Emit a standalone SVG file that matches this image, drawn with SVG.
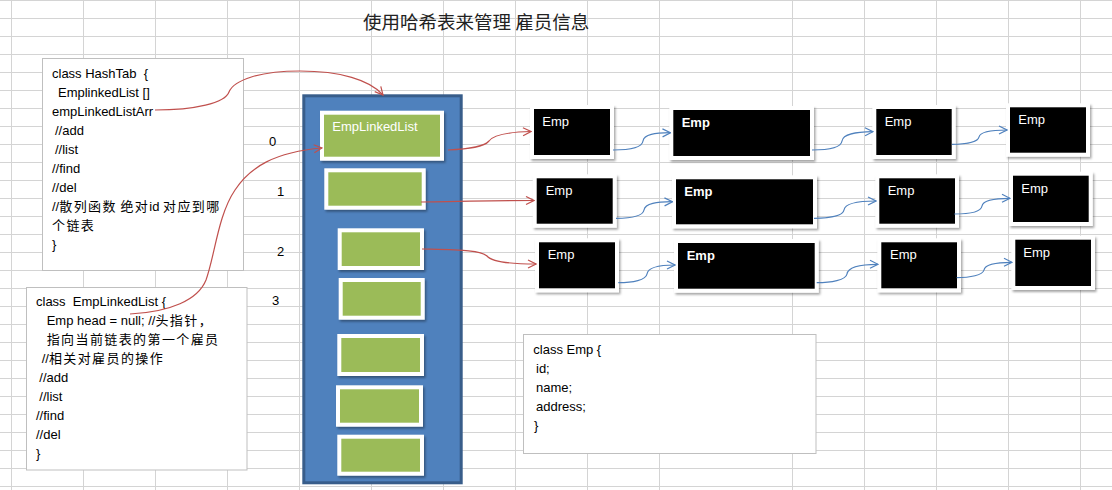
<svg xmlns="http://www.w3.org/2000/svg" width="1112" height="490" viewBox="0 0 1112 490">
<style>
.grid line{stroke:#d4d4d4;stroke-width:1}
.t{font-family:"Liberation Sans","Noto Sans CJK SC",sans-serif;font-size:13px;fill:#000}
.c{font-family:"Noto Sans CJK SC",sans-serif;font-size:13px;letter-spacing:1.4px}
.note{fill:#fff;stroke:#bfbfbf;stroke-width:1}
.g{fill:#9bbb59;stroke:#fff;stroke-width:4;filter:url(#sh)}
.e{fill:#000;stroke:#fff;stroke-width:4;filter:url(#sh)}
.w{font-family:"Liberation Sans",sans-serif;font-size:13px;fill:#fff}
.wb{font-weight:bold}
.red{fill:none;stroke:#c0504d;stroke-width:1.2;marker-end:url(#ar)}
.blu{fill:none;stroke:#4f81bd;stroke-width:1.2;marker-end:url(#ab)}
</style>
<defs>
<filter id="sh" x="-10%" y="-10%" width="130%" height="140%"><feDropShadow dx="1.5" dy="2" stdDeviation="1.2" flood-color="#000" flood-opacity="0.35"/></filter>
<marker id="ar" markerWidth="10" markerHeight="10" refX="9" refY="5" orient="auto" markerUnits="userSpaceOnUse"><path d="M1,1 L9,5 L1,9" fill="none" stroke="#c0504d" stroke-width="1.2"/></marker>
<marker id="ab" markerWidth="10" markerHeight="10" refX="9" refY="5" orient="auto" markerUnits="userSpaceOnUse"><path d="M1,1 L9,5 L1,9" fill="none" stroke="#4f81bd" stroke-width="1.2"/></marker>
</defs>
<rect width="1112" height="490" fill="#fff"/>
<g class="grid">
<line x1="0" y1="0.5" x2="1112" y2="0.5"/><line x1="0" y1="18.5" x2="1112" y2="18.5"/><line x1="0" y1="36.5" x2="1112" y2="36.5"/><line x1="0" y1="54.5" x2="1112" y2="54.5"/><line x1="0" y1="72.5" x2="1112" y2="72.5"/><line x1="0" y1="90.5" x2="1112" y2="90.5"/><line x1="0" y1="108.5" x2="1112" y2="108.5"/><line x1="0" y1="126.5" x2="1112" y2="126.5"/><line x1="0" y1="144.5" x2="1112" y2="144.5"/><line x1="0" y1="162.5" x2="1112" y2="162.5"/><line x1="0" y1="180.5" x2="1112" y2="180.5"/><line x1="0" y1="198.5" x2="1112" y2="198.5"/><line x1="0" y1="216.5" x2="1112" y2="216.5"/><line x1="0" y1="234.5" x2="1112" y2="234.5"/><line x1="0" y1="252.5" x2="1112" y2="252.5"/><line x1="0" y1="270.5" x2="1112" y2="270.5"/><line x1="0" y1="288.5" x2="1112" y2="288.5"/><line x1="0" y1="306.5" x2="1112" y2="306.5"/><line x1="0" y1="324.5" x2="1112" y2="324.5"/><line x1="0" y1="342.5" x2="1112" y2="342.5"/><line x1="0" y1="360.5" x2="1112" y2="360.5"/><line x1="0" y1="378.5" x2="1112" y2="378.5"/><line x1="0" y1="396.5" x2="1112" y2="396.5"/><line x1="0" y1="414.5" x2="1112" y2="414.5"/><line x1="0" y1="432.5" x2="1112" y2="432.5"/><line x1="0" y1="450.5" x2="1112" y2="450.5"/><line x1="0" y1="468.5" x2="1112" y2="468.5"/><line x1="0" y1="486.5" x2="1112" y2="486.5"/>
<line x1="11.5" y1="0" x2="11.5" y2="490"/><line x1="83.5" y1="0" x2="83.5" y2="490"/><line x1="155.5" y1="0" x2="155.5" y2="490"/><line x1="227.5" y1="0" x2="227.5" y2="490"/><line x1="299.5" y1="0" x2="299.5" y2="490"/><line x1="371.5" y1="0" x2="371.5" y2="490"/><line x1="443.5" y1="0" x2="443.5" y2="490"/><line x1="515.5" y1="0" x2="515.5" y2="490"/><line x1="587.5" y1="0" x2="587.5" y2="490"/><line x1="659.5" y1="0" x2="659.5" y2="490"/><line x1="792.5" y1="0" x2="792.5" y2="490"/><line x1="864.5" y1="0" x2="864.5" y2="490"/><line x1="936.5" y1="0" x2="936.5" y2="490"/><line x1="1008.5" y1="0" x2="1008.5" y2="490"/><line x1="1080.5" y1="0" x2="1080.5" y2="490"/>
</g>
<text id="title" x="363" y="29" style="font-family:'Noto Sans CJK SC',sans-serif;font-size:18.5px;fill:#222" xml:space="preserve">使用哈希表来管理 雇员信息</text>
<g id="hashtab">
<rect class="note" x="42.5" y="58.5" width="201" height="212"/>
<text class="t" xml:space="preserve"><tspan x="52" y="77.5">class HashTab  {</tspan><tspan x="58" y="96.5">EmplinkedList []</tspan><tspan x="52" y="115.5">empLinkedListArr</tspan><tspan x="55" y="134.5">//add</tspan><tspan x="55" y="153.5">//list</tspan><tspan x="52" y="172.5">//find</tspan><tspan x="52" y="191.5">//del</tspan><tspan x="52" y="210.5">//<tspan class="c">散列函数</tspan> <tspan class="c">绝对</tspan>id <tspan class="c">对应到哪</tspan></tspan><tspan x="52" y="229.5" class="c">个链表</tspan><tspan x="52" y="248.5">}</tspan></text>
</g>
<g id="emplinkedlist-class">
<rect class="note" x="26.5" y="287.5" width="220.5" height="182.5"/>
<text class="t" xml:space="preserve"><tspan x="36" y="306">class  EmpLinkedList {</tspan><tspan x="46.7" y="325">Emp head = null; //<tspan class="c">头指针，</tspan></tspan><tspan x="46.7" y="344" class="c">指向当前链表的第一个雇员</tspan><tspan x="41.7" y="362.5">//<tspan class="c">相关对雇员的操作</tspan></tspan><tspan x="39.3" y="382">//add</tspan><tspan x="39.3" y="401">//list</tspan><tspan x="36" y="420">//find</tspan><tspan x="36" y="439">//del</tspan><tspan x="36" y="458">}</tspan></text>
</g>
<g id="emp-class">
<rect class="note" x="523.5" y="334.5" width="292.5" height="119"/>
<text class="t" xml:space="preserve"><tspan x="533.3" y="354">class Emp {</tspan><tspan x="536" y="373">id;</tspan><tspan x="536" y="392">name;</tspan><tspan x="536" y="411">address;</tspan><tspan x="534" y="430">}</tspan></text>
</g>
<g id="indices" class="t">
<text x="269" y="146">0</text><text x="277" y="196">1</text><text x="277" y="256">2</text><text x="272" y="305">3</text>
</g>
<g id="array">
<rect x="303.8" y="95.8" width="157.4" height="387" fill="#4f81bd" stroke="#385d8a" stroke-width="3"/>
</g>
<g id="bucket0"><rect class="g" x="322" y="112.7" width="120" height="46"/><text class="w" x="332.3" y="131">EmpLinkedList</text></g>
<g id="bucket1"><rect class="g" x="326.3" y="170.3" width="97.4" height="37.4"/></g>
<g id="bucket2"><rect class="g" x="339.7" y="230.3" width="82.3" height="37.7"/></g>
<g id="bucket3"><rect class="g" x="340.7" y="280" width="82" height="37.7"/></g>
<g id="bucket4"><rect class="g" x="339.3" y="336" width="82.7" height="38"/></g>
<g id="bucket5"><rect class="g" x="338" y="387.3" width="83" height="37.4"/></g>
<g id="bucket6"><rect class="g" x="339.3" y="436.7" width="82.7" height="37"/></g>
<g id="emp-r1a"><rect class="e" x="532" y="107" width="80" height="50"/><text class="w" x="542.3" y="126">Emp</text></g>
<g id="emp-r1b"><rect class="e" x="671.3" y="108" width="140.7" height="50"/><text class="w wb" x="681.7" y="127">Emp</text></g>
<g id="emp-r1c"><rect class="e" x="874.3" y="107" width="79.4" height="50"/><text class="w" x="884.7" y="126">Emp</text></g>
<g id="emp-r1d"><rect class="e" x="1008" y="105.3" width="80" height="49.4"/><text class="w" x="1018.3" y="124">Emp</text></g>
<g id="emp-r2a"><rect class="e" x="534.7" y="176.3" width="80" height="49.4"/><text class="w" x="545.7" y="195">Emp</text></g>
<g id="emp-r2b"><rect class="e" x="674" y="177.3" width="141" height="49"/><text class="w wb" x="684.3" y="196">Emp</text></g>
<g id="emp-r2c"><rect class="e" x="877.3" y="176.3" width="79.7" height="49.4"/><text class="w" x="887.7" y="195">Emp</text></g>
<g id="emp-r2d"><rect class="e" x="1011" y="173.7" width="79.7" height="50.3"/><text class="w" x="1021.3" y="193">Emp</text></g>
<g id="emp-r3a"><rect class="e" x="537" y="240.3" width="80" height="50"/><text class="w" x="547.7" y="259">Emp</text></g>
<g id="emp-r3b"><rect class="e" x="676" y="241" width="140.7" height="49.7"/><text class="w wb" x="686.7" y="260">Emp</text></g>
<g id="emp-r3c"><rect class="e" x="879.3" y="240.3" width="79.7" height="50"/><text class="w" x="890" y="259">Emp</text></g>
<g id="emp-r3d"><rect class="e" x="1013.3" y="237.7" width="79.7" height="50.3"/><text class="w" x="1023.3" y="257">Emp</text></g>
<g id="connectors">
<path class="red" d="M155,110 C195,110 225,103 229,92 C234,80 260,71 300,71 C340,71 370,80 383,95"/>
<path class="red" d="M130,314 C170,312 198,300 206,280 C215,255 218,215 235,190 C250,167 275,152 322,148"/>
<path class="red" d="M448,150 C470,149 484,147 489,141 C494,134 510,132 531,131.5"/>
<path class="red" d="M421,202 C470,201 500,200.5 534,200.5"/>
<path class="red" d="M422,249 C460,250 480,250 487,256 C492,262 510,264 536,264"/>
<path class="blu" d="M613,150 C628,150 642,148 643,141 C644,134 655,133 670.5,132.7"/>
<path class="blu" d="M812,150 C827,150 841,148 842,141 C843,134 855,132 873,131.7"/>
<path class="blu" d="M952,144.3 C966,144.3 978,142 979,137 C980,132 992,130 1007,130"/>
<path class="blu" d="M616,218.3 C631,218.3 643,216 644,210 C645,203 657,202 672.5,201.7"/>
<path class="blu" d="M814,218.3 C829,218.3 843,216 844,210 C845,203 858,201 876,201"/>
<path class="blu" d="M954.3,214 C968,214 981,212 982,206 C983,200 995,198.3 1010,198.3"/>
<path class="blu" d="M618.3,282.7 C633,282.7 646,280 647,274 C648,267 660,265 675,265"/>
<path class="blu" d="M816.7,282.7 C831,282.7 846,280 847,274 C848,267 861,264.3 878,264.3"/>
<path class="blu" d="M956.7,277.7 C970,277.7 983,275 984,270 C985,264 997,262.3 1012,262.3"/>
</g>
</svg>
